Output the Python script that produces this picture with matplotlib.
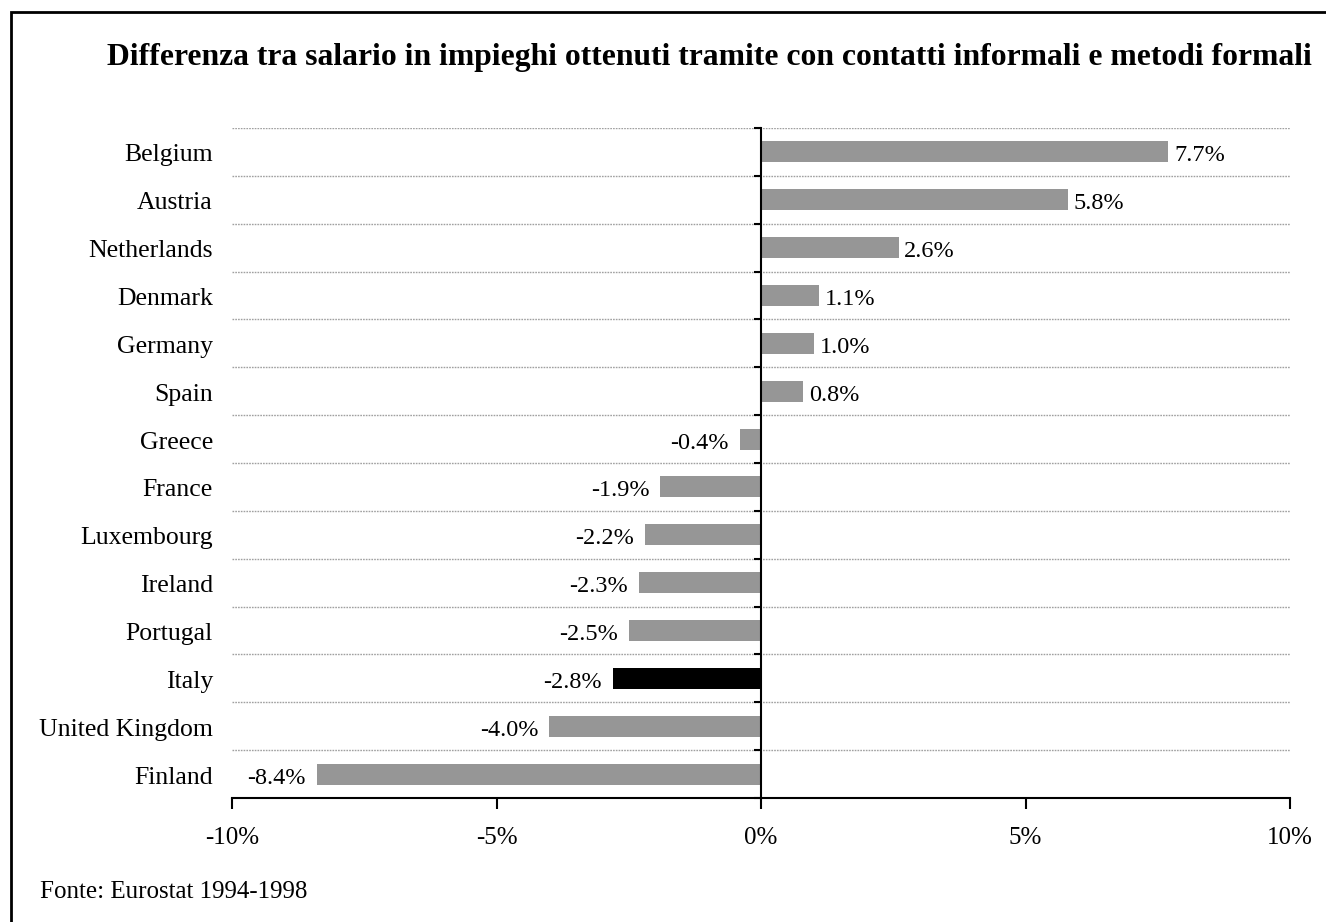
import matplotlib
matplotlib.use("Agg")
import matplotlib.pyplot as plt
import matplotlib.transforms as mtransforms
from matplotlib.ticker import FixedLocator, FuncFormatter
from matplotlib.patches import Rectangle

countries = ["Belgium", "Austria", "Netherlands", "Denmark", "Germany", "Spain",
             "Greece", "France", "Luxembourg", "Ireland", "Portugal", "Italy",
             "United Kingdom", "Finland"]
values = [7.7, 5.8, 2.6, 1.1, 1.0, 0.8, -0.4, -1.9, -2.2, -2.3, -2.5, -2.8, -4.0, -8.4]
highlight = "Italy"
x_ticks = [-10, -5, 0, 5, 10]
title = "Differenza tra salario in impieghi ottenuti tramite con contatti informali e metodi formali"
source = "Fonte: Eurostat 1994-1998"

plt.rcParams['font.family'] = ['Liberation Serif', 'DejaVu Serif']

fig = plt.figure(figsize=(13.26, 9.22), dpi=100)
fig.patches.append(Rectangle((11/1326, -0.01), 1.1, 1 - 12/922 + 0.01, transform=fig.transFigure,
                             fill=False, edgecolor='black', linewidth=2))

ax = fig.add_axes([232/1326, 1 - 798/922, (1290 - 232)/1326, (798 - 128)/922])

n = len(countries)
ypos = list(range(n))
colors = ['black' if c == highlight else '#969696' for c in countries]
ax.barh(ypos, values, height=0.44, color=colors, zorder=3)

ax.set_xlim(-10, 10)
ax.set_ylim(n - 0.5, -0.5)

# gridlines at category boundaries
for b in [i - 0.5 for i in range(n)]:
    ax.axhline(b, color='#a0a0a0', linestyle=(0, (1.2, 0.8)), linewidth=1.0, zorder=1)

# spines
for s in ['top', 'right']:
    ax.spines[s].set_visible(False)
ax.spines['left'].set_position(('data', 0))
ax.spines['left'].set_linewidth(1.5)
ax.spines['left'].set_zorder(4)
ax.spines['bottom'].set_linewidth(1.5)

ax.yaxis.set_major_locator(FixedLocator([i - 0.5 for i in range(n + 1)]))
ax.yaxis.set_major_formatter(FuncFormatter(lambda v, p: ""))
ax.tick_params(axis='y', direction='out', length=5, width=1.5)

ax.set_xticks(x_ticks)
ax.xaxis.set_major_formatter(FuncFormatter(lambda v, p: f"{v:.0f}%"))
ax.tick_params(axis='x', direction='out', length=8, width=1.5, labelsize=18, pad=13)

trans = mtransforms.blended_transform_factory(ax.transAxes, ax.transData)
for y, c in zip(ypos, countries):
    ax.annotate(c, (-0.018, y), xycoords=trans, xytext=(0, -6.8), textcoords='offset points',
                ha='right', va='baseline', fontsize=18.5)

for y, v in zip(ypos, values):
    if v >= 0:
        ax.annotate(f"{v:.1f}%", (v, y), xytext=(4, -6.8), textcoords='offset points',
                    ha='left', va='baseline', fontsize=17.5)
    else:
        ax.annotate(f"{v:.1f}%", (v, y), xytext=(-8, -6.8), textcoords='offset points',
                    ha='right', va='baseline', fontsize=17.5)

fig.text(0.5 + 46/1326, 1 - 57/922, title, ha='center', va='center', fontsize=22.8, fontweight='bold')
fig.text(40/1326, 1 - 892/922, source, ha='left', va='center', fontsize=18)

fig.savefig("out.png", dpi=100)
